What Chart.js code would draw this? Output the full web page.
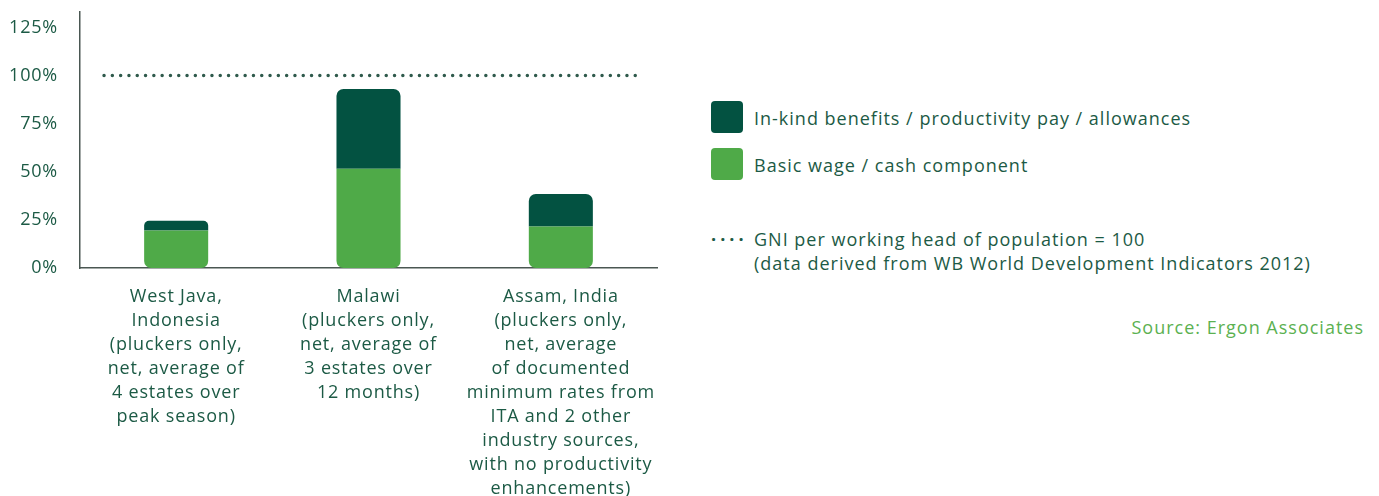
<!DOCTYPE html>
<html>
<head>
<meta charset="utf-8">
<script src="https://cdn.jsdelivr.net/npm/chart.js@4"></script>
<style>
  body { margin: 0; background: #fff; font-family: "Open Sans", sans-serif; color: #1c5a45; }
  #wrap { position: relative; width: 1379px; height: 496px; overflow: hidden; }
  #chartBox { position: absolute; left: 0; top: 0; width: 680px; height: 496px; }
  .key { position: absolute; left: 711px; font-size: 18px; letter-spacing: 1px; }
  .key .sw { position: absolute; left: 0; top: 0; width: 32px; height: 32px; border-radius: 4px; }
  .key span { position: absolute; left: 43px; top: 5px; white-space: nowrap; }
  #gni { position: absolute; left: 711px; top: 227px; font-size: 18px; line-height: 24px; white-space: nowrap; letter-spacing: 1px; }
  #gni .dots { display: inline-block; width: 43px; letter-spacing: 4px; font-weight: bold; }
  #source { position: absolute; right: 15px; top: 315px; font-size: 18px; color: #5bb151; letter-spacing: 1px; }
</style>
</head>
<body>
<div id="wrap">
  <div id="chartBox"><canvas id="wageChart"></canvas></div>
  <div class="key" style="top:101px"><div class="sw" style="background:#035241"></div><span>In-kind benefits / productivity pay / allowances</span></div>
  <div class="key" style="top:148px"><div class="sw" style="background:#4faa48"></div><span>Basic wage / cash component</span></div>
  <div id="gni"><span class="dots">····</span>GNI per working head of population = 100<br><span class="dots"></span>(data derived from WB World Development Indicators 2012)</div>
  <div id="source">Source: Ergon Associates</div>
</div>
<script>
const categories = [
  ["West Java,", "Indonesia", "(pluckers only,", "net, average of", "4 estates over", "peak season)"],
  ["Malawi", "(pluckers only,", "net, average of", "3 estates over", "12 months)"],
  ["Assam, India", "(pluckers only,", "net, average", "of documented", "minimum rates from", "ITA and 2 other", "industry sources,", "with no productivity", "enhancements)"]
];
const basicWage = [19.5, 51.5, 21.5];
const inKind = [5, 41.5, 17];
const yTicks = [0, 25, 50, 75, 100, 125];
const gniLevel = 100;
const gniSpan = [-0.375, 2.42];

const dark = "#035241";
const light = "#4faa48";
const textColor = "#1c5a45";
const axisColor = "#4a5752";

Chart.defaults.font.family = "'Open Sans', sans-serif";
Chart.defaults.font.size = 18;
Chart.defaults.color = textColor;

// wider text to get closer to the original typeface
const spacing = {
  id: "spacing",
  beforeDraw(chart) { chart.ctx.letterSpacing = "0.8px"; },
};

const ctx = document.getElementById("wageChart").getContext("2d");
new Chart(ctx, {
  data: {
    labels: categories,
    datasets: [
      {
        type: "bar",
        label: "Basic wage / cash component",
        data: basicWage,
        backgroundColor: light,
        borderSkipped: false,
        borderRadius: { topLeft: 0, topRight: 0, bottomLeft: 7, bottomRight: 7 },
        grouped: false,
        categoryPercentage: 0.333,
        barPercentage: 1,
        stack: "s",
      },
      {
        type: "bar",
        label: "In-kind benefits / productivity pay / allowances",
        data: inKind,
        backgroundColor: dark,
        borderSkipped: false,
        borderRadius: { topLeft: 7, topRight: 7, bottomLeft: 0, bottomRight: 0 },
        grouped: false,
        categoryPercentage: 0.333,
        barPercentage: 1,
        stack: "s",
      },
      {
        type: "line",
        label: "GNI",
        xAxisID: "xLine",
        data: gniSpan.map((x) => ({ x: x, y: gniLevel })),
        borderColor: "#2f5a4c",
        borderWidth: 3.5,
        borderDash: [0, 8.3],
        borderCapStyle: "round",
        pointRadius: 0,
      },
    ],
  },
  plugins: [spacing],
  options: {
    responsive: true,
    maintainAspectRatio: false,
    animation: false,
    layout: { padding: { right: 23, top: 12 } },
    plugins: { legend: { display: false }, tooltip: { enabled: false } },
    scales: {
      x: {
        stacked: true,
        grid: { display: false },
        border: { color: axisColor, width: 1.5 },
        ticks: { padding: 9, maxRotation: 0, autoSkip: false, font: { lineHeight: 1.33 } },
        afterFit: (s) => { s.height = 228; s.paddingLeft = 0; s.paddingRight = 0; },
      },
      xLine: {
        type: "linear",
        display: false,
        min: -0.5,
        max: 2.5,
      },
      y: {
        stacked: true,
        min: 0,
        max: 133,
        grid: { display: false },
        border: { color: axisColor, width: 1.5 },
        afterBuildTicks: (s) => { s.ticks = yTicks.map((v) => ({ value: v })); },
        ticks: { padding: 14, callback: (v) => v + "%" },
        afterFit: (s) => { s.width = 80; s.paddingTop = 0; s.paddingBottom = 0; },
      },
    },
  },
});
</script>
</body>
</html>
